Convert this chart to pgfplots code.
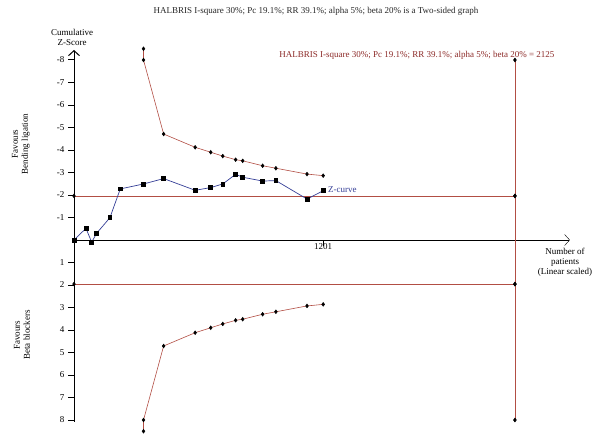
\documentclass[border=0pt]{standalone}
\usepackage{pgfplots}
\pgfplotsset{compat=1.18}
\usepackage{fontspec}
\setmainfont{Liberation Serif}
\usetikzlibrary{arrows.meta}

\definecolor{bound}{RGB}{178,78,68}
\definecolor{boundtext}{RGB}{140,42,40}
\definecolor{zblue}{RGB}{52,62,150}

\begin{document}
\begin{tikzpicture}
  \useasboundingbox (0,0) rectangle (599pt,445pt);
  \begin{axis}[
    at={(74pt,205pt)}, anchor=origin,
    scale only axis,
    width=495.9pt, height=372.15pt,
    xmin=0, xmax=2390,
    ymin=-8.44, ymax=8.1,
    y dir=reverse,
    clip=false,
    axis x line*=middle,
    axis y line*=left,
    x axis line style={-{Straight Barb[length=5pt,width=11pt]}},
    y axis line style={draw=none},
    xtick={1201},
    ytick={-8,-7,-6,-5,-4,-3,-2,-1,1,2,3,4,5,6,7,8},
    xtick align=inside,
    ytick align=outside,
    major tick length=6pt,
    tick style={black, line width=1pt},
    ticklabel style={font=\fontsize{9}{10}\selectfont},
    /pgf/number format/assume math mode=true,
    /pgf/number format/1000 sep={},
  ]
    % alpha spending boundaries
    \addplot[draw=bound, line width=0.6pt, mark=diamond*, mark size=1.8pt, mark options={black, fill=black}] coordinates {
      (335,-8.5)(335,-8.0)(432,-4.71)(584,-4.12)(659,-3.90)(717,-3.73)(779,-3.57)
      (813,-3.52)(909,-3.30)(973,-3.19)(1123,-2.93)(1201,-2.86)
    };
    \addplot[draw=bound, line width=0.6pt, mark=diamond*, mark size=1.8pt, mark options={black, fill=black}] coordinates {
      (335,8.5)(335,8.0)(432,4.71)(584,4.12)(659,3.90)(717,3.73)(779,3.57)
      (813,3.52)(909,3.30)(973,3.19)(1123,2.93)(1201,2.86)
    };
    % conventional boundaries
    \addplot[draw=bound, line width=0.6pt, mark=diamond*, mark size=1.8pt, mark options={black, fill=black}] coordinates {
      (0,-1.96)(2125,-1.96)
    };
    \addplot[draw=bound, line width=0.6pt, mark=diamond*, mark size=1.8pt, mark options={black, fill=black}] coordinates {
      (0,1.96)(2125,1.96)
    };
    % required information size
    \addplot[draw=bound, line width=0.7pt, mark=diamond*, mark size=1.8pt, mark options={black, fill=black}] coordinates {
      (2125,-8)(2125,-1.96)(2125,1.96)(2125,8)
    };
    % Z-curve
    \addplot[draw=zblue, line width=0.7pt, mark=square*, mark size=1.9pt, mark options={black, fill=black}] coordinates {
      (0,0)(58,-0.52)(85,0.1)(109,-0.3)(173,-0.99)(223,-2.27)(335,-2.49)(432,-2.73)
      (584,-2.21)(659,-2.33)(717,-2.49)(779,-2.92)(813,-2.79)(909,-2.62)(973,-2.64)
      (1123,-1.82)(1201,-2.19)
    };
  \end{axis}
  % y axis, arrow pointing up
  \draw[black, line width=1pt, {Straight Barb[length=5pt,width=11pt]}-] (74pt,395pt) -- (74pt,23pt);
  \begin{scope}[font=\fontsize{9}{10}\selectfont]
    \node[text=black!85] at (316pt,434pt) {HALBRIS I-square 30\%; Pc 19.1\%; RR 39.1\%; alpha 5\%; beta 20\% is a Two-sided graph};
    \node[text=boundtext, anchor=east] at (558pt,390pt) {HALBRIS I-square 30\%; Pc 19.1\%; RR 39.1\%; alpha 5\%; beta 20\% = 2125};
    \node[align=center, inner sep=0pt] at (72pt,408pt) {Cumulative\\Z-Score};
    \node[text=zblue, anchor=west, inner sep=1pt] at (327pt,255pt) {Z-curve};
    \node[align=center, inner sep=0pt] at (565pt,183pt) {Number of\\patients\\(Linear scaled)};
    \node[align=center, rotate=90, inner sep=0pt] at (21pt,301pt) {Favours\\Bending ligation};
    \node[align=center, rotate=90, inner sep=0pt] at (22pt,110pt) {Favours\\Beta blockers};
  \end{scope}
\end{tikzpicture}
\end{document}
